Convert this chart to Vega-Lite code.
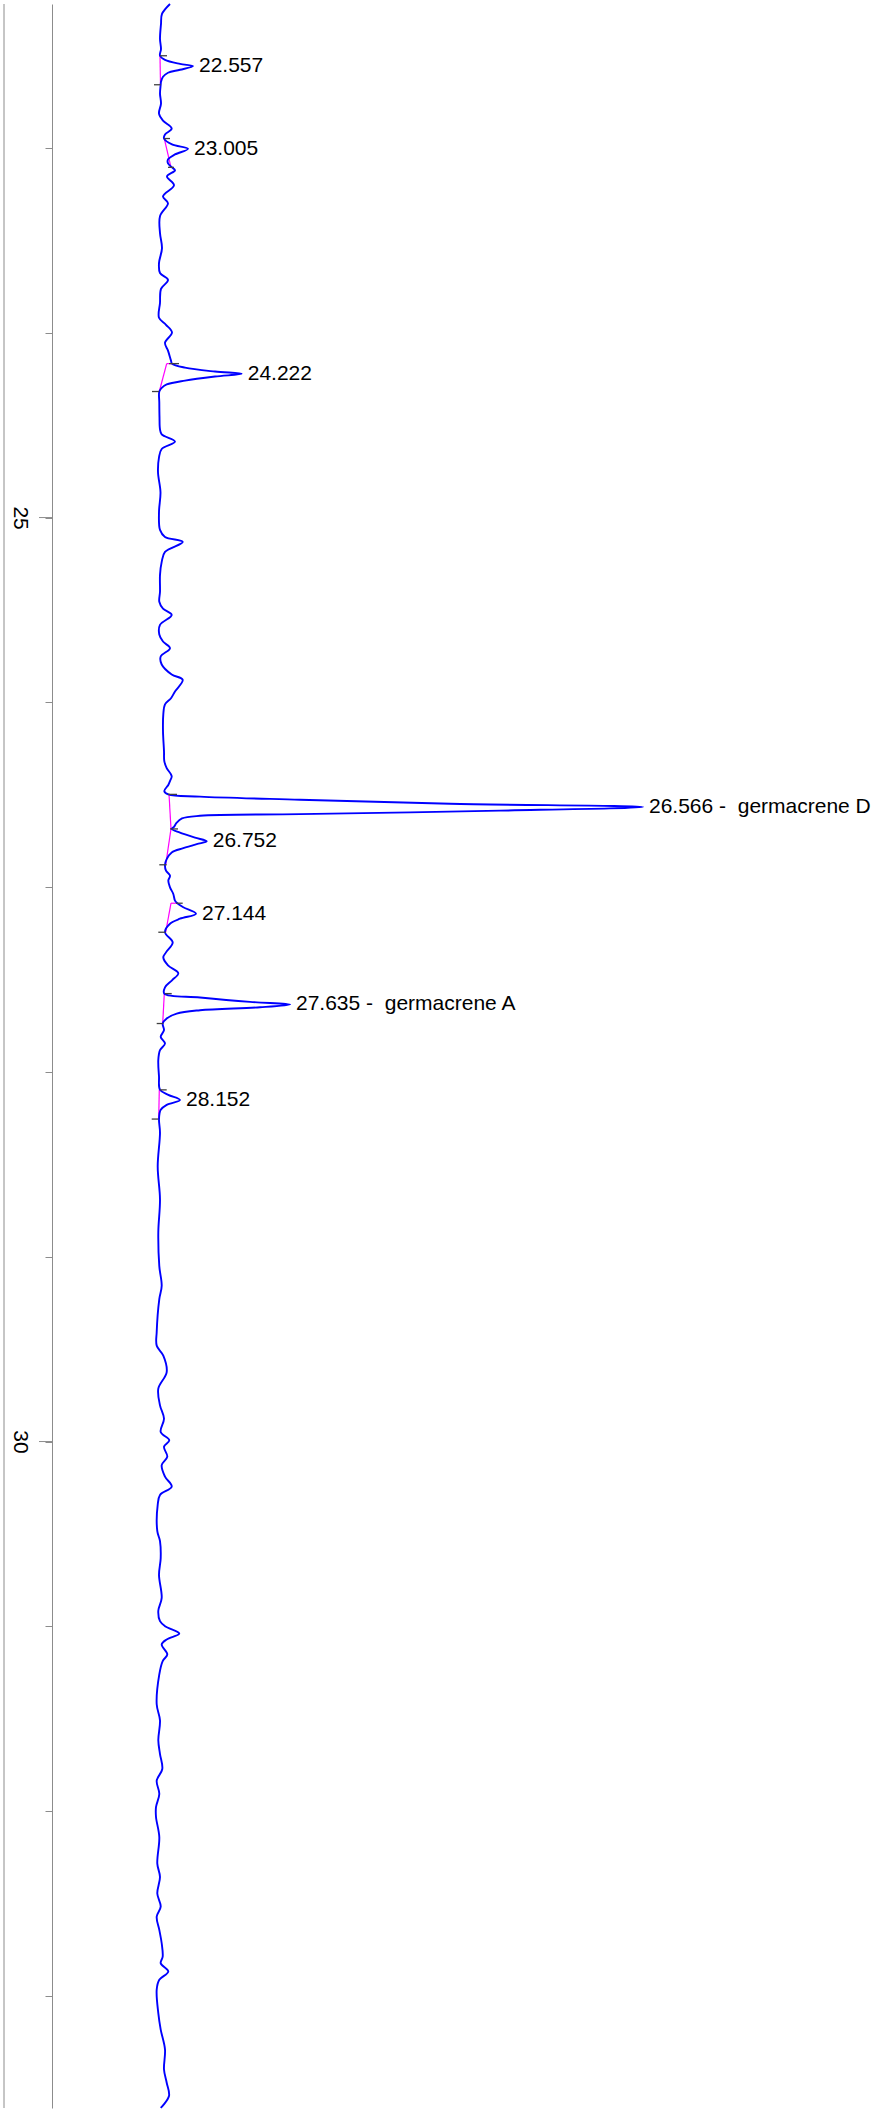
{
  "$schema": "https://vega.github.io/schema/vega-lite/v6.json",
  "width": 876,
  "height": 2112,
  "autosize": {"type": "fit", "contains": "padding"},
  "padding": 0,
  "background": "#ffffff",
  "config": {"view": {"stroke": null}},
  "datasets": {
    "trace": [
      {"t": 22.221, "s": 10}, {"t": 22.275, "s": 2}, {"t": 22.329, "s": 1}, {"t": 22.41, "s": 0}, {"t": 22.464, "s": 1},
      {"t": 22.501, "s": 0}, {"t": 22.523, "s": 5}, {"t": 22.545, "s": 20}, {"t": 22.557, "s": 33}, {"t": 22.577, "s": 20},
      {"t": 22.593, "s": 8}, {"t": 22.615, "s": 3}, {"t": 22.642, "s": 1}, {"t": 22.658, "s": 0.7}, {"t": 22.706, "s": 0},
      {"t": 22.76, "s": 1}, {"t": 22.814, "s": -1}, {"t": 22.852, "s": 3}, {"t": 22.895, "s": 11.7}, {"t": 22.927, "s": 5},
      {"t": 22.949, "s": 4}, {"t": 22.981, "s": 12}, {"t": 23.005, "s": 28}, {"t": 23.035, "s": 15}, {"t": 23.062, "s": 8},
      {"t": 23.084, "s": 8}, {"t": 23.105, "s": 12}, {"t": 23.121, "s": 15}, {"t": 23.154, "s": 7}, {"t": 23.202, "s": 14},
      {"t": 23.262, "s": 3}, {"t": 23.299, "s": 8}, {"t": 23.369, "s": 0}, {"t": 23.461, "s": 0}, {"t": 23.542, "s": 2},
      {"t": 23.623, "s": -1}, {"t": 23.677, "s": 0}, {"t": 23.714, "s": 8}, {"t": 23.763, "s": 1}, {"t": 23.838, "s": 0},
      {"t": 23.919, "s": -1}, {"t": 23.957, "s": 6}, {"t": 23.999, "s": 12}, {"t": 24.054, "s": 5}, {"t": 24.097, "s": 8},
      {"t": 24.151, "s": 11}, {"t": 24.167, "s": 12}, {"t": 24.189, "s": 25}, {"t": 24.21, "s": 55}, {"t": 24.222, "s": 81.7},
      {"t": 24.237, "s": 55}, {"t": 24.259, "s": 25}, {"t": 24.28, "s": 6.7}, {"t": 24.297, "s": 2}, {"t": 24.318, "s": -0.7},
      {"t": 24.377, "s": -0.7}, {"t": 24.458, "s": -0.5}, {"t": 24.523, "s": 0}, {"t": 24.55, "s": 1.7}, {"t": 24.589, "s": 15},
      {"t": 24.629, "s": 1.7}, {"t": 24.674, "s": -1}, {"t": 24.755, "s": -2}, {"t": 24.863, "s": 0.5}, {"t": 24.97, "s": -1},
      {"t": 25.067, "s": 0}, {"t": 25.105, "s": 5}, {"t": 25.132, "s": 22.7}, {"t": 25.186, "s": 5}, {"t": 25.24, "s": 1.7},
      {"t": 25.31, "s": 0}, {"t": 25.402, "s": 0}, {"t": 25.456, "s": -0.7}, {"t": 25.493, "s": 3}, {"t": 25.527, "s": 11.7},
      {"t": 25.581, "s": 0}, {"t": 25.633, "s": -0.7}, {"t": 25.671, "s": 3}, {"t": 25.707, "s": 10}, {"t": 25.752, "s": 0.7},
      {"t": 25.795, "s": 1.7}, {"t": 25.849, "s": 11.7}, {"t": 25.878, "s": 22.7}, {"t": 25.941, "s": 15}, {"t": 25.978, "s": 11},
      {"t": 26.011, "s": 5}, {"t": 26.065, "s": 3.3}, {"t": 26.156, "s": 3}, {"t": 26.264, "s": 4}, {"t": 26.318, "s": 4.3},
      {"t": 26.356, "s": 6.7}, {"t": 26.399, "s": 11.7}, {"t": 26.426, "s": 10}, {"t": 26.447, "s": 8.3}, {"t": 26.48, "s": 4.3},
      {"t": 26.498, "s": 8.3}, {"t": 26.51, "s": 40}, {"t": 26.527, "s": 140}, {"t": 26.549, "s": 290}, {"t": 26.566, "s": 483},
      {"t": 26.586, "s": 340}, {"t": 26.605, "s": 140}, {"t": 26.614, "s": 40}, {"t": 26.628, "s": 22}, {"t": 26.651, "s": 16.7},
      {"t": 26.674, "s": 14}, {"t": 26.685, "s": 11.7}, {"t": 26.705, "s": 20}, {"t": 26.732, "s": 35}, {"t": 26.752, "s": 46.7},
      {"t": 26.767, "s": 36.7}, {"t": 26.789, "s": 23.3}, {"t": 26.812, "s": 11.7}, {"t": 26.848, "s": 6.7}, {"t": 26.879, "s": 5},
      {"t": 26.911, "s": 6}, {"t": 26.938, "s": 10}, {"t": 26.965, "s": 8.3}, {"t": 27.001, "s": 10}, {"t": 27.037, "s": 13.3},
      {"t": 27.073, "s": 15}, {"t": 27.087, "s": 17.3}, {"t": 27.109, "s": 23.3}, {"t": 27.144, "s": 36}, {"t": 27.171, "s": 20},
      {"t": 27.198, "s": 10}, {"t": 27.244, "s": 5}, {"t": 27.299, "s": 12.7}, {"t": 27.353, "s": 6}, {"t": 27.38, "s": 3.3},
      {"t": 27.423, "s": 8}, {"t": 27.466, "s": 18.3}, {"t": 27.504, "s": 12}, {"t": 27.542, "s": 5}, {"t": 27.576, "s": 4.3},
      {"t": 27.597, "s": 40}, {"t": 27.621, "s": 90}, {"t": 27.635, "s": 130}, {"t": 27.65, "s": 100}, {"t": 27.666, "s": 40},
      {"t": 27.684, "s": 16.7}, {"t": 27.711, "s": 6.7}, {"t": 27.738, "s": 2.7}, {"t": 27.774, "s": 4}, {"t": 27.81, "s": 0.7},
      {"t": 27.846, "s": 5}, {"t": 27.882, "s": 0}, {"t": 27.935, "s": -1.7}, {"t": 28.025, "s": -1}, {"t": 28.097, "s": 0},
      {"t": 28.124, "s": 8.3}, {"t": 28.152, "s": 20}, {"t": 28.178, "s": 6.7}, {"t": 28.205, "s": 0.7}, {"t": 28.255, "s": -1},
      {"t": 28.329, "s": 0}, {"t": 28.512, "s": -2.3}, {"t": 28.69, "s": 0}, {"t": 28.868, "s": -1.7}, {"t": 29.051, "s": -0.7},
      {"t": 29.157, "s": 1.7}, {"t": 29.229, "s": -0.7}, {"t": 29.407, "s": -3.3}, {"t": 29.481, "s": -3.3}, {"t": 29.535, "s": 3.3},
      {"t": 29.624, "s": 6.7}, {"t": 29.714, "s": -1.7}, {"t": 29.804, "s": 0}, {"t": 29.876, "s": 4}, {"t": 29.948, "s": 0.7},
      {"t": 29.993, "s": 9.3}, {"t": 30.028, "s": 4}, {"t": 30.082, "s": 7.3}, {"t": 30.128, "s": 1.7}, {"t": 30.19, "s": 5},
      {"t": 30.244, "s": 11.7}, {"t": 30.289, "s": 0}, {"t": 30.343, "s": -2.3}, {"t": 30.485, "s": -2.7}, {"t": 30.539, "s": 0},
      {"t": 30.631, "s": 0.7}, {"t": 30.722, "s": -1}, {"t": 30.846, "s": 1.7}, {"t": 30.916, "s": -1.7}, {"t": 30.972, "s": 0},
      {"t": 30.999, "s": 5}, {"t": 31.039, "s": 19.3}, {"t": 31.071, "s": 6.7}, {"t": 31.098, "s": 1.7}, {"t": 31.152, "s": 7.3},
      {"t": 31.188, "s": 2.7}, {"t": 31.26, "s": -0.7}, {"t": 31.422, "s": -3.3}, {"t": 31.509, "s": 0}, {"t": 31.617, "s": -1.7},
      {"t": 31.691, "s": 0}, {"t": 31.772, "s": 2.3}, {"t": 31.835, "s": -3.3}, {"t": 31.907, "s": -0.7}, {"t": 31.978, "s": -4},
      {"t": 32.032, "s": -4}, {"t": 32.14, "s": -0.7}, {"t": 32.284, "s": -2.7}, {"t": 32.356, "s": 0}, {"t": 32.446, "s": -2.7},
      {"t": 32.517, "s": 0.7}, {"t": 32.571, "s": -3.3}, {"t": 32.643, "s": -0.7}, {"t": 32.715, "s": 1.7}, {"t": 32.787, "s": 2.7},
      {"t": 32.823, "s": 0.7}, {"t": 32.868, "s": 8.3}, {"t": 32.913, "s": -0.7}, {"t": 32.966, "s": -3.3}, {"t": 33.093, "s": -1.7},
      {"t": 33.182, "s": 0.7}, {"t": 33.29, "s": 5}, {"t": 33.398, "s": 4}, {"t": 33.47, "s": 6.7}, {"t": 33.542, "s": 9},
      {"t": 33.606, "s": 0.7}
    ],
    "bounds": [
      {"t": 22.501, "s": 0, "s2": 7}, {"t": 22.658, "s": 0.7, "s2": -6},
      {"t": 22.949, "s": 4, "s2": 10}, {"t": 23.105, "s": 8, "s2": 14},
      {"t": 24.167, "s": 9, "s2": 19}, {"t": 24.318, "s": -8, "s2": -1},
      {"t": 26.498, "s": 8, "s2": 17}, {"t": 26.685, "s": 10, "s2": 18},
      {"t": 26.879, "s": -0.7, "s2": 6.7},
      {"t": 27.087, "s": 16, "s2": 22.7}, {"t": 27.244, "s": -1.7, "s2": 5.7},
      {"t": 27.576, "s": 5, "s2": 11.7}, {"t": 27.738, "s": -3.3, "s2": 3.3},
      {"t": 28.097, "s": 0, "s2": 6.7}, {"t": 28.255, "s": -8.3, "s2": -1.7}
    ],
    "baseline": [
      {"t": 22.501, "s": 0, "t2": 22.658, "s2": 0.5},
      {"t": 22.949, "s": 4.3, "t2": 23.105, "s2": 11},
      {"t": 24.167, "s": 6.7, "t2": 24.167, "s2": 13.3},
      {"t": 24.167, "s": 6.7, "t2": 24.318, "s2": -0.7},
      {"t": 26.496, "s": 9, "t2": 26.685, "s2": 11},
      {"t": 26.685, "s": 11, "t2": 26.879, "s2": 5.7},
      {"t": 27.087, "s": 11, "t2": 27.087, "s2": 17.3},
      {"t": 27.087, "s": 11, "t2": 27.244, "s2": 5.7},
      {"t": 27.576, "s": 4.3, "t2": 27.738, "s2": 2.7},
      {"t": 28.097, "s": -0.7, "t2": 28.255, "s2": -1.3}
    ],
    "labels": [
      {"t": 22.557, "s": 33, "label": "22.557"},
      {"t": 23.005, "s": 28, "label": "23.005"},
      {"t": 24.222, "s": 81.7, "label": "24.222"},
      {"t": 26.566, "s": 483, "label": "26.566 -\u00a0 germacrene D"},
      {"t": 26.752, "s": 46.7, "label": "26.752"},
      {"t": 27.144, "s": 36, "label": "27.144"},
      {"t": 27.635, "s": 130, "label": "27.635 -\u00a0 germacrene A"},
      {"t": 28.152, "s": 20, "label": "28.152"}
    ],
    "major": [{"t": 25}, {"t": 30}]
  },
  "layer": [
    {
      "data": {"values": [{}]},
      "mark": {"type": "rule", "color": "#8c8c8c", "strokeWidth": 1},
      "encoding": {
        "x": {"datum": -156, "type": "quantitative", "scale": {"domain": [-108, 716], "nice": false, "zero": false}, "axis": null}
      }
    },
    {
      "data": {"name": "baseline"},
      "mark": {"type": "rule", "color": "#ff00ff", "strokeWidth": 1.2},
      "encoding": {
        "x": {"field": "s", "type": "quantitative", "scale": {"domain": [-108, 716], "nice": false, "zero": false}, "axis": null},
        "x2": {"field": "s2"},
        "y": {"field": "t", "type": "quantitative", "scale": {"domain": [22.221, 33.6065], "nice": false, "zero": false, "reverse": true}},
        "y2": {"field": "t2"}
      }
    },
    {
      "data": {"name": "trace"},
      "mark": {"type": "line", "color": "#0000ff", "strokeWidth": 1.9, "interpolate": "catmull-rom"},
      "encoding": {
        "x": {"field": "s", "type": "quantitative", "scale": {"domain": [-108, 716], "nice": false, "zero": false}, "axis": null},
        "y": {
          "field": "t", "type": "quantitative",
          "scale": {"domain": [22.221, 33.6065], "nice": false, "zero": false, "reverse": true},
          "axis": {
            "values": [23, 24, 25, 26, 27, 28, 29, 30, 31, 32, 33],
            "format": "d",
            "title": null,
            "grid": false,
            "domainColor": "#8c8c8c",
            "domainWidth": 1,
            "tickColor": "#8c8c8c",
            "tickWidth": 1,
            "tickSize": 7,
            "labelExpr": "datum.value % 5 === 0 ? datum.label : ''",
            "labelAngle": 90,
            "labelAlign": "center",
            "labelBaseline": "middle",
            "labelPadding": 26,
            "labelFont": "Liberation Sans",
            "labelFontSize": 21,
            "labelColor": "#000000",
            "labelOverlap": false,
            "labelFlush": false,
            "labelBound": false,
            "minExtent": 52,
            "maxExtent": 52
          }
        },
        "order": {"field": "t", "type": "quantitative"}
      }
    },
    {
      "data": {"name": "major"},
      "mark": {"type": "tick", "orient": "horizontal", "size": 13, "thickness": 1, "color": "#8c8c8c", "opacity": 1},
      "encoding": {
        "x": {"datum": -114.5, "type": "quantitative"},
        "y": {"field": "t", "type": "quantitative"}
      }
    },
    {
      "data": {"name": "bounds"},
      "mark": {"type": "rule", "color": "#404040", "strokeWidth": 1.3},
      "encoding": {
        "x": {"field": "s", "type": "quantitative"},
        "x2": {"field": "s2"},
        "y": {"field": "t", "type": "quantitative"}
      }
    },
    {
      "data": {"name": "labels"},
      "mark": {"type": "text", "align": "left", "baseline": "middle", "dx": 6, "font": "Liberation Sans", "fontSize": 21, "color": "#000000"},
      "encoding": {
        "x": {"field": "s", "type": "quantitative"},
        "y": {"field": "t", "type": "quantitative"},
        "text": {"field": "label"}
      }
    }
  ]
}
